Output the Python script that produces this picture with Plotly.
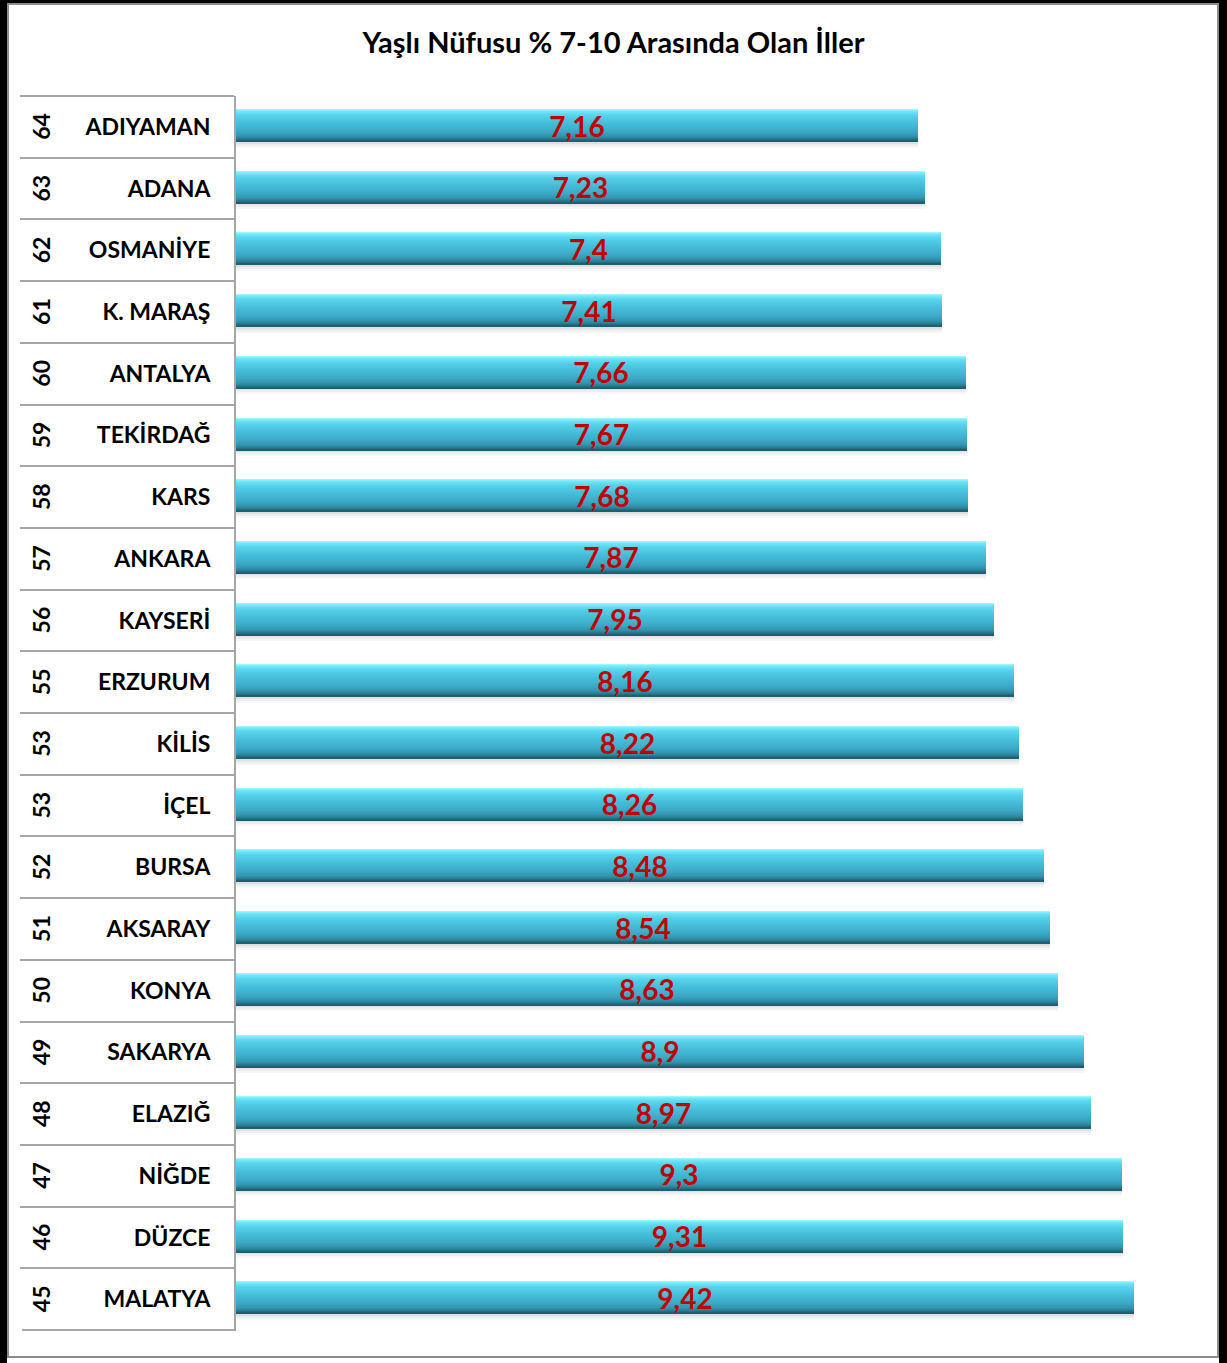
import plotly.graph_objects as go

# ---- data ----
provinces = ["ADIYAMAN", "ADANA", "OSMANİYE", "K. MARAŞ", "ANTALYA", "TEKİRDAĞ", "KARS",
             "ANKARA", "KAYSERİ", "ERZURUM", "KİLİS", "İÇEL", "BURSA", "AKSARAY",
             "KONYA", "SAKARYA", "ELAZIĞ", "NİĞDE", "DÜZCE", "MALATYA"]
ranks = ["64", "63", "62", "61", "60", "59", "58", "57", "56", "55",
         "53", "53", "52", "51", "50", "49", "48", "47", "46", "45"]
values = [7.16, 7.23, 7.4, 7.41, 7.66, 7.67, 7.68, 7.87, 7.95, 8.16,
          8.22, 8.26, 8.48, 8.54, 8.63, 8.9, 8.97, 9.3, 9.31, 9.42]
value_labels = [f"{v:g}".replace(".", ",") for v in values]
title = "Yaşlı Nüfusu % 7-10 Arasında Olan İller"

# ---- geometry helpers (layout only) ----
W, H = 1227, 1363
L, R, T, B = 236, 1189, 96, 1330
ROW = (B - T) / len(provinces)


def px_x(px):
    return (px - L) / (R - L)


def px_y(py):
    return (B - py) / (B - T)


BAR_TOP = -17.3  # px from row centre
BAR_H = 32

# colour stops for the vertical gradient of the bars (px from bar top)
stops = [(0, (168, 248, 255)), (2, (116, 234, 252)), (6, (88, 212, 236)),
         (14, (70, 190, 218)), (22, (60, 170, 199)), (27, (51, 148, 175)),
         (30, (39, 119, 140)), (32, (27, 87, 102))]


def colour_at(p):
    for (p0, c0), (p1, c1) in zip(stops, stops[1:]):
        if p0 <= p <= p1:
            t = (p - p0) / (p1 - p0) if p1 > p0 else 0
            c = [round(a + (b - a) * t) for a, b in zip(c0, c1)]
            return f"rgb({c[0]},{c[1]},{c[2]})"
    return "rgb(27,87,102)"


bands = [(32, 34, "rgba(0,0,0,0.12)"), (34, 36, "rgba(0,0,0,0.07)"),
         (36, 38, "rgba(0,0,0,0.03)")]
for i in range(BAR_H):
    bands.append((i, i + 1.05, colour_at(i + 0.5)))

FONT = "Lato"

fig = go.Figure()
for a, b, col in bands:
    fig.add_trace(go.Bar(
        x=values, y=provinces, orientation="h",
        offset=(BAR_TOP + a) / ROW, width=(b - a) / ROW,
        marker=dict(color=col, line=dict(width=0)),
        hoverinfo="skip", showlegend=False,
    ))

# transparent bar carrying the value labels
fig.add_trace(go.Bar(
    x=values, y=provinces, orientation="h",
    offset=BAR_TOP / ROW, width=BAR_H / ROW,
    marker=dict(color="rgba(0,0,0,0)", line=dict(width=0)),
    text=value_labels, textposition="inside", insidetextanchor="middle",
    textangle=0, constraintext="none",
    textfont=dict(family=FONT, size=28, color="#C00000", weight="bold"),
    showlegend=False,
))

# rank numbers (rotated)
for p, r in zip(provinces, ranks):
    fig.add_annotation(
        x=px_x(41), xref="paper", y=p, yref="y",
        text=r, textangle=-90, showarrow=False,
        font=dict(family=FONT, size=23, color="black", weight="bold"),
        xanchor="center", yanchor="middle",
    )

shapes = [
    # inner grey frame
    dict(type="rect", xref="paper", yref="paper", layer="below",
         x0=px_x(8), x1=px_x(1218), y0=px_y(1357), y1=px_y(4),
         line=dict(color="#8C8C8C", width=2), fillcolor="rgba(0,0,0,0)"),
    # bottom separator of the category table
    dict(type="line", xref="paper", yref="paper", x0=px_x(22), x1=0,
         y0=0, y1=0, line=dict(color="#A6A6A6", width=2)),
    # outer black edges
    dict(type="rect", xref="paper", yref="paper", x0=px_x(0), x1=px_x(7),
         y0=px_y(W * 2), y1=px_y(0), fillcolor="black", line=dict(width=0)),
    dict(type="rect", xref="paper", yref="paper", x0=px_x(0), x1=px_x(W),
         y0=px_y(3), y1=px_y(0), fillcolor="black", line=dict(width=0)),
    dict(type="rect", xref="paper", yref="paper", x0=px_x(1219), x1=px_x(W),
         y0=px_y(W * 2), y1=px_y(0), fillcolor="black", line=dict(width=0)),
]

fig.update_layout(
    width=W, height=H, autosize=False,
    margin=dict(l=L, r=W - R, t=T, b=H - B, pad=0),
    paper_bgcolor="white", plot_bgcolor="white",
    barmode="overlay", bargap=0,
    title=dict(text=title, x=0.5, xref="container", xanchor="center",
               y=1 - 43 / H, yref="container", yanchor="middle",
               font=dict(family=FONT, size=29, color="black", weight="bold")),
    shapes=shapes,
    xaxis=dict(range=[0, 10], showgrid=False, zeroline=False, showline=False,
               showticklabels=False, ticks=""),
    yaxis=dict(autorange="reversed", type="category",
               showgrid=False, zeroline=False,
               showline=True, linecolor="#A6A6A6", linewidth=2,
               ticks="outside", tickson="boundaries", ticklen=214,
               tickcolor="#A6A6A6", tickwidth=2,
               ticklabelstandoff=19,
               tickfont=dict(family=FONT, size=23, color="black", weight="bold")),
)

fig.write_html("out.html", config={"displayModeBar": False},
               post_script="document.body.style.margin='0';")
